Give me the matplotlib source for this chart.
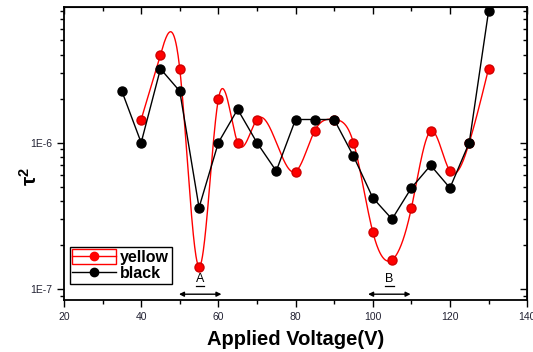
import numpy as np
import matplotlib
matplotlib.use("Agg")
import matplotlib.pyplot as plt
from matplotlib.lines import Line2D
from matplotlib.patches import Patch

plt.rcParams['font.family'] = ['Liberation Sans', 'DejaVu Sans']
plt.rcParams['mathtext.fontset'] = 'custom'
plt.rcParams['mathtext.rm'] = 'Liberation Sans'
plt.rcParams['mathtext.bf'] = 'Liberation Sans:bold'
plt.rcParams['mathtext.it'] = 'Liberation Sans:italic'

# Data
black_v = [35, 40, 45, 50, 55, 60, 65, 70, 75, 80, 85, 90, 95, 100, 105, 110, 115, 120, 125, 130]
black_tau = [2.25e-6, 1.0e-6, 3.2e-6, 2.25e-6, 3.6e-7, 1.0e-6, 1.69e-6, 1.0e-6, 6.4e-7, 1.44e-6,
             1.44e-6, 1.44e-6, 8.1e-7, 4.2e-7, 3.0e-7, 4.9e-7, 7.0e-7, 4.9e-7, 1.0e-6, 7.9e-6]

yellow_v = [40, 45, 50, 55, 60, 65, 70, 80, 85, 90, 95, 100, 105, 110, 115, 120, 125, 130]
yellow_tau = [1.44e-6, 4.0e-6, 3.2e-6, 1.42e-7, 1.98e-6, 1.0e-6, 1.44e-6, 6.35e-7, 1.21e-6,
              1.44e-6, 1.0e-6, 2.46e-7, 1.58e-7, 3.56e-7, 1.2e-6, 6.4e-7, 1.0e-6, 3.2e-6]

# marked regions
regions = {'A': (49.8, 60.8), 'B': (98.8, 109.8)}


def natural_spline(x, y, xs):
    # natural cubic spline, like Origin's "spline" connection
    x = np.asarray(x, float)
    y = np.asarray(y, float)
    n = len(x)
    h = np.diff(x)
    A = np.zeros((n, n))
    b = np.zeros(n)
    A[0, 0] = 1
    A[-1, -1] = 1
    for i in range(1, n - 1):
        A[i, i - 1] = h[i - 1]
        A[i, i] = 2 * (h[i - 1] + h[i])
        A[i, i + 1] = h[i]
        b[i] = 6 * ((y[i + 1] - y[i]) / h[i] - (y[i] - y[i - 1]) / h[i - 1])
    M = np.linalg.solve(A, b)
    idx = np.clip(np.searchsorted(x, xs) - 1, 0, n - 2)
    x0, x1 = x[idx], x[idx + 1]
    hh = x1 - x0
    return (M[idx] * (x1 - xs) ** 3 / (6 * hh) + M[idx + 1] * (xs - x0) ** 3 / (6 * hh)
            + (y[idx] - M[idx] * hh ** 2 / 6) * (x1 - xs) / hh
            + (y[idx + 1] - M[idx + 1] * hh ** 2 / 6) * (xs - x0) / hh)


fig = plt.figure(figsize=(5.33, 3.52), dpi=100)
ax = fig.add_axes([0.120, 0.148, 0.869, 0.832])

xs = np.linspace(yellow_v[0], yellow_v[-1], 800)
ys = 10 ** natural_spline(yellow_v, np.log10(yellow_tau), xs)
ax.plot(xs, ys, color='red', lw=1.0, zorder=2)
ax.plot(yellow_v, yellow_tau, 'o', color='red', ms=6.5, mec='#d00000', zorder=3)
ax.plot(black_v, black_tau, '-o', color='black', lw=1.0, ms=6.5, zorder=4)

ax.set_yscale('log')
ax.set_xlim(20, 140)
ax.set_ylim(8.41e-8, 8.46e-6)
ax.set_xticks(np.arange(20, 141, 20))
ax.set_xticks(np.arange(30, 140, 20), minor=True)
ax.set_yticks([1e-7, 1e-6])
ax.set_yticklabels(['1E-7', '1E-6'])
ax.tick_params(axis='both', which='major', direction='out', length=5, width=1,
               labelsize=7.5, labelcolor='#222233')
ax.tick_params(axis='both', which='minor', direction='out', length=3, width=1)
for s in ax.spines.values():
    s.set_linewidth(1.3)

# mirrored ticks on top/right, pointing in
top = ax.secondary_xaxis('top')
top.set_xticks(np.arange(20, 141, 20))
top.set_xticks(np.arange(30, 140, 20), minor=True)
top.tick_params(which='major', direction='in', length=5, width=1, labeltop=False)
top.tick_params(which='minor', direction='in', length=3, width=1)
right = ax.secondary_yaxis('right')
right.set_yticks([1e-7, 1e-6])
right.tick_params(which='major', direction='in', length=5, width=1, labelright=False)
right.tick_params(which='minor', direction='in', length=3, width=1, labelright=False)

ax.set_xlabel('Applied Voltage(V)', fontsize=14.5, fontweight='bold', labelpad=6)
ax.set_ylabel(r'$\mathbf{\tau^2}$', fontsize=15)
ax.yaxis.set_label_coords(-0.05, 0.42)

# regions A and B: underlined letter above a double arrow
for name, (lo, hi) in regions.items():
    mid = (lo + hi) / 2
    ax.text(mid, 1.16e-7, name, ha='center', va='center', fontsize=9)
    ax.plot([mid - 1.1, mid + 1.1], [1.045e-7, 1.045e-7], color='black', lw=0.9)
    ax.annotate('', xy=(lo, 9.2e-8), xytext=(hi, 9.2e-8),
                arrowprops=dict(arrowstyle='<|-|>', color='black', lw=1, mutation_scale=7,
                                shrinkA=0, shrinkB=0))

# Origin-style legend: red entry has a box drawn round its line
h_yellow = (Patch(facecolor='none', edgecolor='red', lw=1),
            Line2D([], [], color='red', marker='o', ms=6, lw=1))
h_black = Line2D([], [], color='black', marker='o', ms=6, lw=1)
leg = ax.legend([h_yellow, h_black], ['yellow', 'black'],
                loc='lower left', bbox_to_anchor=(0.013, 0.055), borderaxespad=0,
                fancybox=False, edgecolor='black', framealpha=1,
                prop={'weight': 'bold', 'size': 11.5}, handlelength=2.7, handleheight=1.0,
                handletextpad=0.3, labelspacing=0.05, borderpad=0.15)
leg.get_frame().set_linewidth(1)

fig.savefig('out.png', dpi=100)
